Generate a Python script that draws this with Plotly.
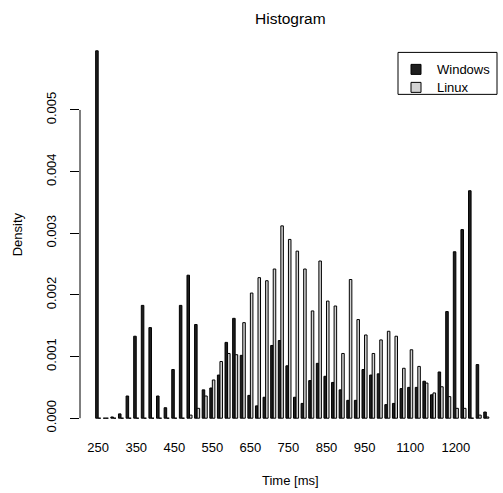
import plotly.graph_objects as go

# Bin centres (ms), 20 ms bins
categories = [250, 270, 290, 310, 330, 350, 370, 390, 410, 430,
              450, 470, 490, 510, 530, 550, 570, 590, 610, 630,
              650, 670, 690, 710, 730, 750, 770, 790, 810, 830,
              850, 870, 890, 910, 930, 950, 970, 990, 1010, 1030,
              1050, 1070, 1090, 1110, 1130, 1150, 1170, 1190, 1210, 1230,
              1250, 1270]

windows = [0.00596, 0.00000, 0.00002, 0.00007, 0.00036, 0.00133, 0.00183, 0.00147, 0.00036, 0.00017,
           0.00079, 0.00183, 0.00232, 0.00152, 0.00046, 0.00049, 0.00070, 0.00123, 0.00162, 0.00102,
           0.00037, 0.00020, 0.00034, 0.00118, 0.00126, 0.00085, 0.00034, 0.00024, 0.00061, 0.00089,
           0.00068, 0.00058, 0.00046, 0.00029, 0.00029, 0.00079, 0.00070, 0.00072, 0.00022, 0.00024,
           0.00048, 0.00050, 0.00050, 0.00060, 0.00038, 0.00075, 0.00173, 0.00270, 0.00306, 0.00369,
           0.00087, 0.00010]

linux = [0.0, 0.0, 0.0, 0.0, 0.0, 0.0, 0.0, 0.0, 0.0, 0.0,
         0.0, 0.0, 0.00005, 0.00016, 0.00036, 0.00062, 0.00092, 0.00105, 0.00103, 0.00155,
         0.00203, 0.00228, 0.00223, 0.00242, 0.00312, 0.00290, 0.00271, 0.00242, 0.00174, 0.00255,
         0.00190, 0.00182, 0.00105, 0.00225, 0.00160, 0.00135, 0.00105, 0.00127, 0.00141, 0.00133,
         0.00081, 0.00111, 0.00084, 0.00057, 0.00041, 0.00051, 0.00035, 0.00016, 0.00016, 0.00000,
         0.00005, 0.00002]

# x tick labels as drawn (labels sit under these bins)
tick_positions = [250, 350, 450, 550, 650, 750, 850, 950, 1070, 1190]
tick_labels = ["250", "350", "450", "550", "650", "750", "850", "950", "1100", "1200"]

y_ticks = [0.000, 0.001, 0.002, 0.003, 0.004, 0.005]
y_tick_labels = ["0.000", "0.001", "0.002", "0.003", "0.004", "0.005"]

series_names = ["Windows", "Linux"]
series_fill = ["#1e1e1e", "#d3d3d3"]

FONT = "Liberation Sans, Arial, Helvetica, sans-serif"
W, H = 503, 493
ML, MR, MT, MB = 80, 0, 35.6, 60.2
PW, PH = W - ML - MR, H - MT - MB


def px_x(px):
    return (px - ML) / PW


def px_y(py):
    return (H - MB - py) / PH


fig = go.Figure()
for name, vals, fill in zip(series_names, [windows, linux], series_fill):
    fig.add_trace(go.Bar(x=categories, y=vals, name=name, showlegend=False,
                         marker=dict(color=fill, line=dict(color="#000000", width=1))))

shapes = [dict(type="line", xref="paper", yref="y", x0=0, x1=0,
               y0=y_ticks[0], y1=y_ticks[-1], line=dict(color="black", width=1))]
# legend box
shapes.append(dict(type="rect", xref="paper", yref="paper",
                   x0=px_x(398), x1=px_x(497), y0=px_y(94), y1=px_y(52),
                   line=dict(color="black", width=1), fillcolor="white", layer="above"))
annotations = []
for i, (name, fill) in enumerate(zip(series_names, series_fill)):
    cy = 69 + 18 * i
    shapes.append(dict(type="rect", xref="paper", yref="paper",
                       x0=px_x(411), x1=px_x(421), y0=px_y(cy + 5), y1=px_y(cy - 5),
                       line=dict(color="black", width=1), fillcolor=fill, layer="above"))
    annotations.append(dict(text=name, xref="paper", yref="paper", x=px_x(435), y=px_y(cy),
                            showarrow=False, font=dict(size=13), xanchor="left", yanchor="middle"))

annotations += [
    dict(text="Histogram", xref="paper", yref="paper", x=px_x(290), y=px_y(18),
         showarrow=False, font=dict(size=15.5), xanchor="center", yanchor="middle"),
    dict(text="Time [ms]", xref="paper", yref="paper", x=px_x(290), y=px_y(480),
         showarrow=False, font=dict(size=13), xanchor="center", yanchor="middle"),
    dict(text="Density", xref="paper", yref="paper", x=px_x(17), y=px_y(234),
         showarrow=False, font=dict(size=13), textangle=-90, xanchor="center", yanchor="middle"),
]

fig.update_layout(
    width=W, height=H,
    margin=dict(l=ML, r=MR, t=MT, b=MB, pad=0),
    paper_bgcolor="white", plot_bgcolor="white",
    font=dict(family=FONT, size=13, color="black"),
    barmode="group", bargap=1/3, bargroupgap=0,
    showlegend=False,
    xaxis=dict(range=[202.2, 1313.9], tickmode="array", tickvals=tick_positions,
               ticktext=tick_labels, showgrid=False, zeroline=False, showline=False,
               ticks="", ticklabelstandoff=5, tickfont=dict(size=13)),
    yaxis=dict(range=[-0.00024, 0.0062], tickmode="array", tickvals=y_ticks,
               ticktext=y_tick_labels, showgrid=False, zeroline=False, showline=False,
               ticks="outside", ticklen=9, tickcolor="black", tickwidth=1,
               tickangle=-90, ticklabelstandoff=9, tickfont=dict(size=13)),
    shapes=shapes,
    annotations=annotations,
)

fig.write_html("out.html")
